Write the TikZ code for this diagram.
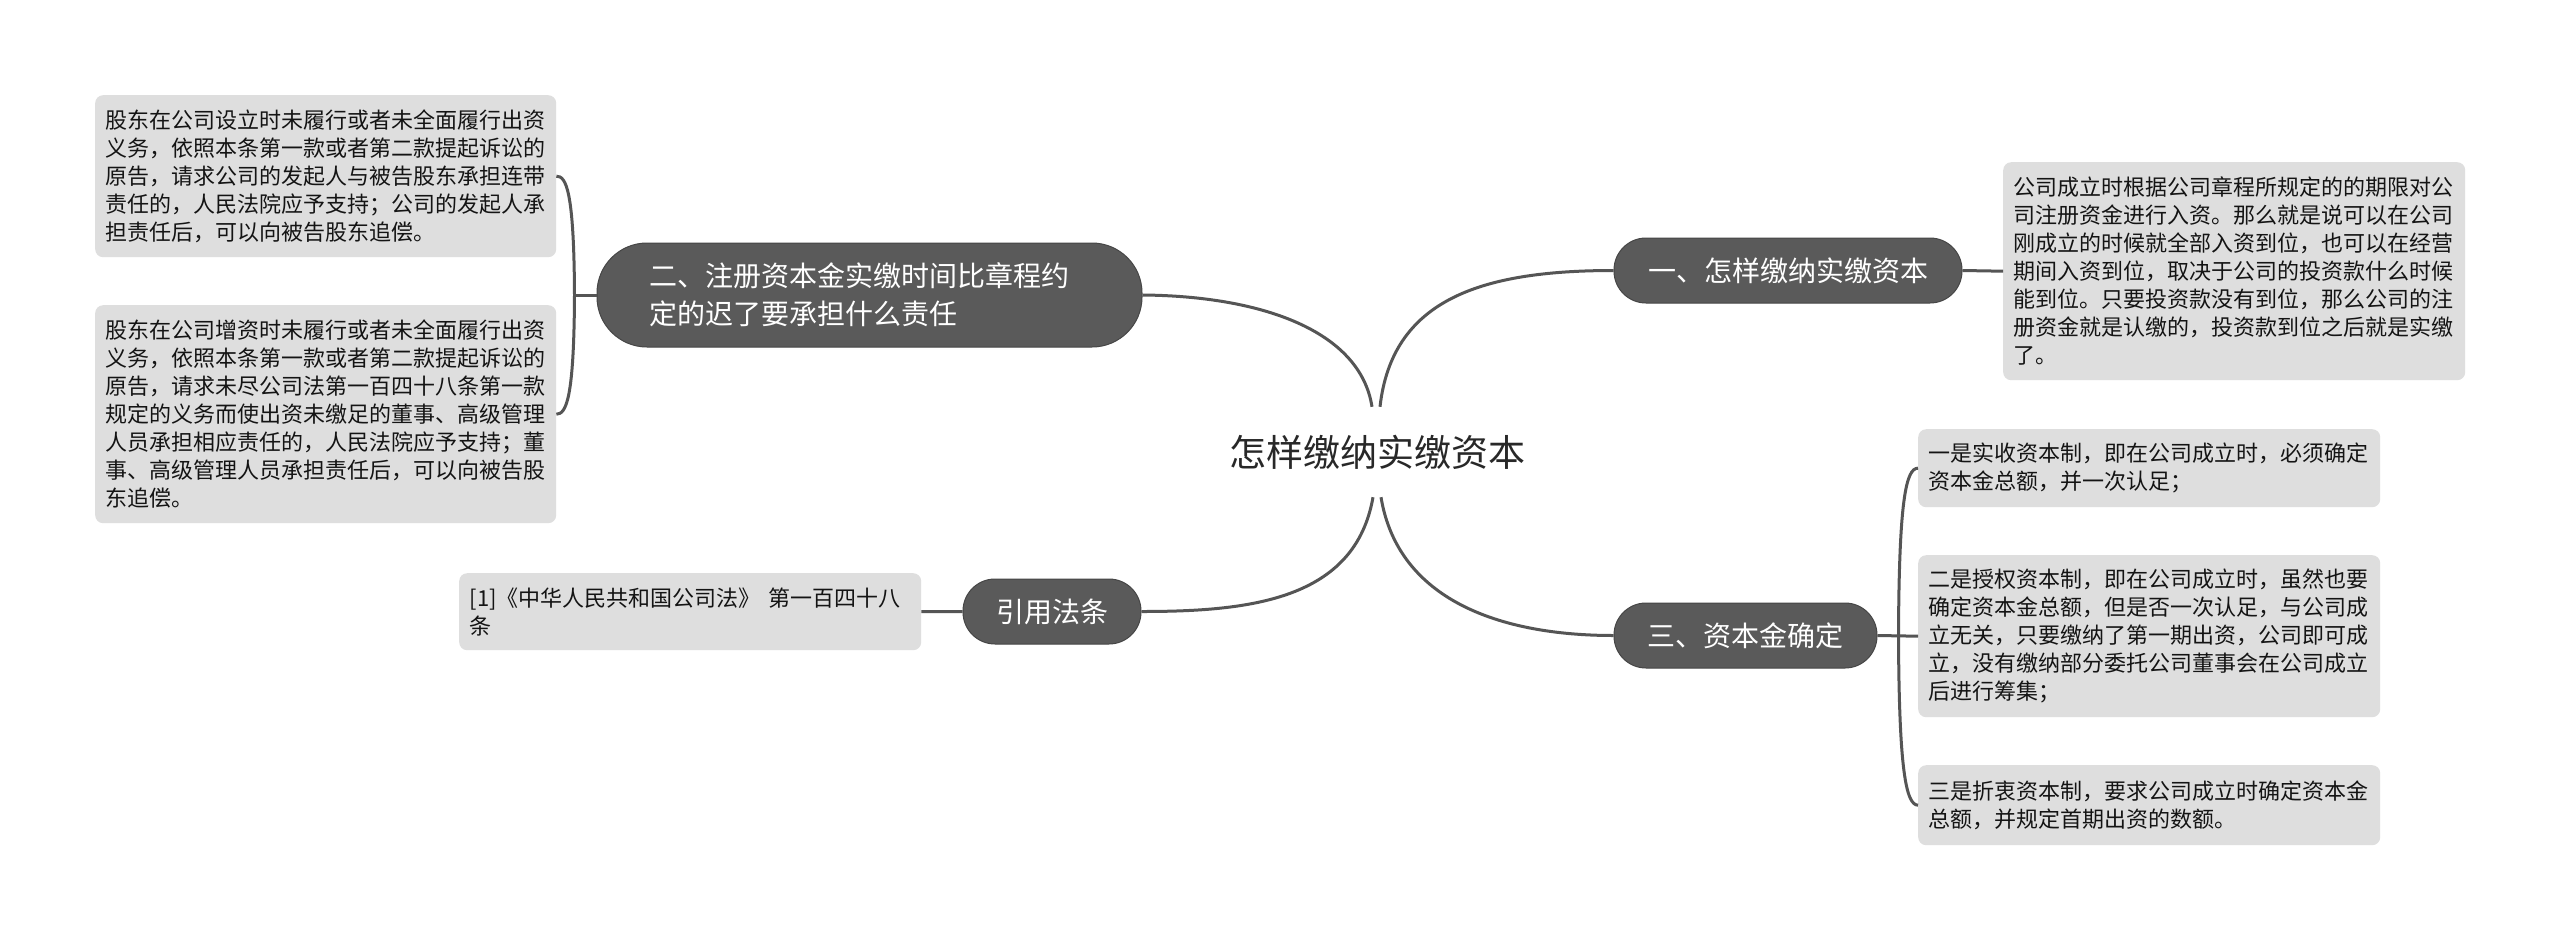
\documentclass[tikz,border=0pt]{standalone}
\usepackage{fontspec}
\setmainfont{Noto Sans CJK SC}
\definecolor{linec}{RGB}{85,85,85}
\definecolor{leaff}{RGB}{222,222,222}
\definecolor{topicf}{RGB}{90,90,90}
\definecolor{topicd}{RGB}{70,70,70}
\definecolor{txt}{RGB}{20,20,20}
\definecolor{rootc}{RGB}{40,40,40}
\begin{document}
\begin{tikzpicture}[x=1pt,y=-1pt,
  conn/.style={draw=linec, line width=3pt},
  leaf/.style={fill=leaff, rounded corners=8pt, inner sep=0pt, anchor=north west,
    align=left, text width=441pt, font=\fontsize{22}{28}\selectfont, text=txt},
  topic/.style={fill=topicf, draw=topicd, line width=1pt, text=white, inner sep=0pt,
    font=\fontsize{28}{38}\selectfont, rounded corners=32pt},
]
\useasboundingbox (0,0) rectangle (2560,938);
\fill[white] (0,0) rectangle (2560,938);

% root
\node[font=\fontsize{37}{44}\selectfont, text=rootc, minimum width=310pt, minimum height=90pt, inner sep=0pt] (root) at (1377,452) {怎样缴纳实缴资本};

% topics
\node[topic, minimum width=545pt, minimum height=104pt, rounded corners=50pt, align=left, text width=440pt] (T2) at (869.5,295) {二、注册资本金实缴时间比章程约\\定的迟了要承担什么责任};
\node[topic, minimum width=348pt, minimum height=65pt] (T1) at (1788,270.5) {一、怎样缴纳实缴资本};
\node[topic, minimum width=263pt, minimum height=65pt] (T3) at (1745.5,635.5) {三、资本金确定};
\node[topic, minimum width=178pt, minimum height=65pt] (T4) at (1052,611.5) {引用法条};

% leaves
\node[leaf, minimum width=461pt, minimum height=162pt] (L1) at (95,95) {股东在公司设立时未履行或者未全面履行出资\\义务，依照本条第一款或者第二款提起诉讼的\\原告，请求公司的发起人与被告股东承担连带\\责任的，人民法院应予支持；公司的发起人承\\担责任后，可以向被告股东追偿。};
\node[leaf, minimum width=461pt, minimum height=218pt] (L2) at (95,305) {股东在公司增资时未履行或者未全面履行出资\\义务，依照本条第一款或者第二款提起诉讼的\\原告，请求未尽公司法第一百四十八条第一款\\规定的义务而使出资未缴足的董事、高级管理\\人员承担相应责任的，人民法院应予支持；董\\事、高级管理人员承担责任后，可以向被告股\\东追偿。};
\node[leaf, minimum width=462pt, minimum height=218pt] (R1) at (2003,162) {公司成立时根据公司章程所规定的的期限对公\\司注册资金进行入资。那么就是说可以在公司\\刚成立的时候就全部入资到位，也可以在经营\\期间入资到位，取决于公司的投资款什么时候\\能到位。只要投资款没有到位，那么公司的注\\册资金就是认缴的，投资款到位之后就是实缴\\了。};
\node[leaf, minimum width=462pt, minimum height=78pt] (R2) at (1918,429) {一是实收资本制，即在公司成立时，必须确定\\资本金总额，并一次认足；};
\node[leaf, minimum width=462pt, minimum height=162pt] (R3) at (1918,555) {二是授权资本制，即在公司成立时，虽然也要\\确定资本金总额，但是否一次认足，与公司成\\立无关，只要缴纳了第一期出资，公司即可成\\立，没有缴纳部分委托公司董事会在公司成立\\后进行筹集；};
\node[leaf, minimum width=462pt, minimum height=80pt] (R4) at (1918,765) {三是折衷资本制，要求公司成立时确定资本金\\总额，并规定首期出资的数额。};
\node[leaf, minimum width=462pt, minimum height=77pt] (ref) at (459,573) {[1]《中华人民共和国公司法》 第一百四十八\\条};

% root connectors
\draw[conn] ([xshift=3pt]root.north) .. controls (1392,300) and (1480,270.5) .. (T1.west);
\draw[conn] ([xshift=-5pt]root.north) .. controls (1360,330) and (1260,296) .. (T2.east);
\draw[conn] ([xshift=-4pt]root.south) .. controls (1355,600) and (1250,611.5) .. (T4.east);
\draw[conn] ([xshift=4pt]root.south) .. controls (1398,600) and (1500,635.5) .. (T3.west);

% branch connectors
\coordinate (j2) at ([xshift=-22pt]T2.west);
\draw[conn] (T2.west) -- (j2);
\draw[conn] (j2) .. controls (574,190) and (566,176) .. (L1.east);
\draw[conn] (j2) .. controls (574,400) and (566,414) .. (L2.east);

\coordinate (j3) at ([xshift=21pt]T3.east);
\draw[conn] (T3.east) -- (R3.west);
\draw[conn] (j3) .. controls (1899,500) and (1906,468) .. (R2.west);
\draw[conn] (j3) .. controls (1899,770) and (1906,805) .. (R4.west);

\draw[conn] (T1.east) -- (R1.west);
\draw[conn] (ref.east) -- (T4.west);
\end{tikzpicture}
\end{document}
